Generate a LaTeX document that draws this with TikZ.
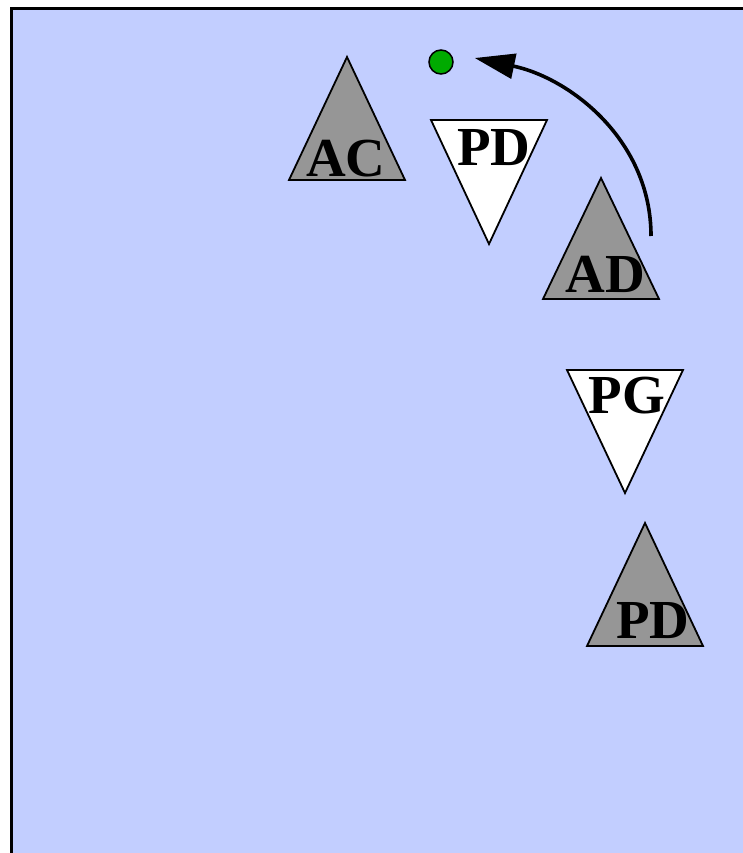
\documentclass[tikz,border=0pt]{standalone}
\usepackage{fontspec}
\setmainfont{Liberation Serif}
\usetikzlibrary{arrows.meta}
\definecolor{bgblue}{RGB}{194,206,255}
\definecolor{trigray}{RGB}{150,150,150}
\definecolor{dotgreen}{RGB}{0,170,0}
\begin{document}
\begin{tikzpicture}[x=1pt,y=-1pt,
  tri/.style={draw=black,line width=1.8pt,line join=miter},
  grayup/.style={tri,fill=trigray},
  whitedown/.style={tri,fill=white},
  lbl/.style={font=\fontsize{55}{55}\selectfont\bfseries,anchor=base,inner sep=0pt},
  link/.style={line width=3.6pt,-{Triangle[length=40pt,width=25pt]}}]
\useasboundingbox (0,0) rectangle (743,853);
\begin{scope}
\clip (0,0) rectangle (743,853);
\draw[fill=bgblue,line width=3.6pt] (11.5,8.5) rectangle (780,880);
\end{scope}
% triangles
\draw[grayup] (347,57) -- (405,180) -- (289,180) -- cycle;
\draw[whitedown] (431,120) -- (547,120) -- (489,244) -- cycle;
\draw[grayup] (601,178) -- (659,299) -- (543,299) -- cycle;
\draw[whitedown] (567,370) -- (683,370) -- (625,493) -- cycle;
\draw[grayup] (645,523) -- (703,646) -- (587,646) -- cycle;
% labels
\node[lbl] (ac) at (346,176) {AC};
\node[lbl] (pd1) at (494,166) {PD};
\node[lbl] (ad) at (605,292) {AD};
\node[lbl] (pg) at (627,413) {PG};
\node[lbl] (pd2) at (653,638) {PD};
% marker and arrow
\node[circle,draw=black,line width=1.5pt,fill=dotgreen,minimum size=24pt,inner sep=0pt] (dot) at (441,62) {};
\coordinate (start) at (651,236);
\draw[link] (start) .. controls (651,140) and (570,78) .. ([xshift=21pt,yshift=4pt]dot.east);
\end{tikzpicture}
\end{document}
